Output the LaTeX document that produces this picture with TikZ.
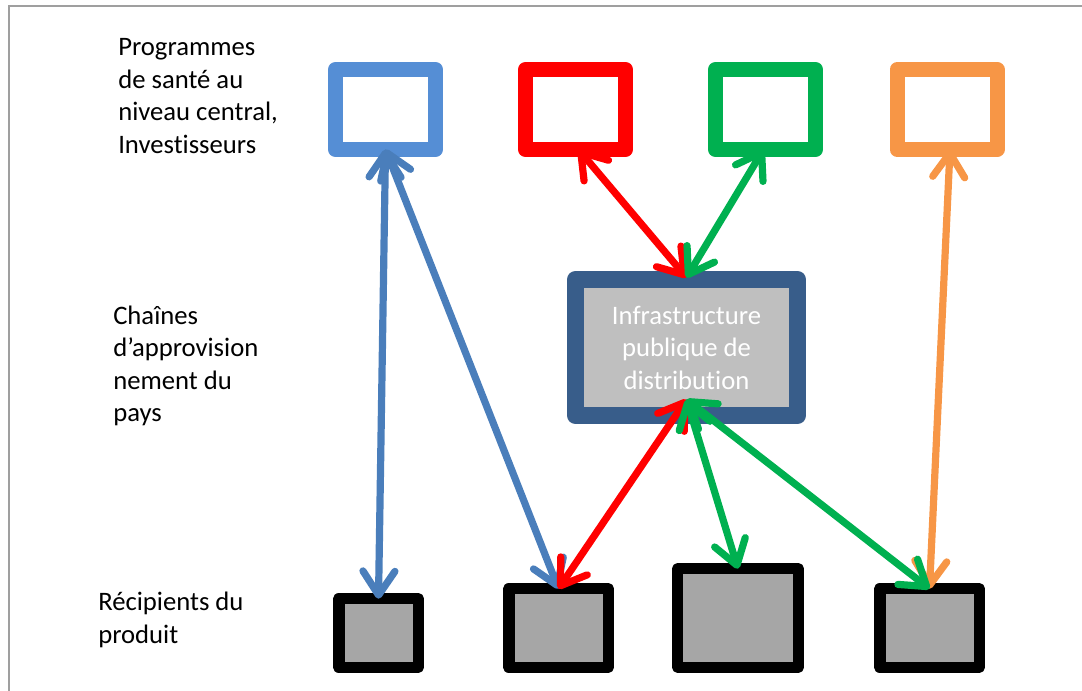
\documentclass[tikz,border=0pt]{standalone}
\usepackage{fontspec}
\setmainfont{Carlito}[Ligatures={TeX,NoCommon}]
\usetikzlibrary{arrows.meta,calc}

\definecolor{progblue}{HTML}{558ED5}
\definecolor{linkblue}{HTML}{4A7EBB}
\definecolor{progred}{HTML}{FF0000}
\definecolor{proggreen}{HTML}{00B050}
\definecolor{progorange}{HTML}{F79646}
\definecolor{infraborder}{HTML}{385D8A}
\definecolor{infrafill}{HTML}{BFBFBF}
\definecolor{recipfill}{HTML}{A6A6A6}

\tikzset{
  prog/.style={draw=#1, fill=white, line width=11.25pt, minimum width=75pt,
    minimum height=60pt, inner sep=0pt, outer sep=0pt, line join=round},
  recip/.style={draw=black, fill=recipfill, line width=8.6pt, inner sep=0pt,
    outer sep=0pt, line join=round},
  link/.style={draw=#1, line width=5.4pt, line cap=round, <->,
    >={Straight Barb[length=18pt,width=24pt,round]}},
  lbl/.style={anchor=base west, align=left, inner sep=0pt,
    font=\fontsize{20}{24.4}\selectfont},
}

\begin{document}
\begin{tikzpicture}[x=0.75pt, y=-0.75pt]
  \useasboundingbox (0,0) rectangle (1082,691);
  \draw[gray!75, line width=1.5pt] (8.5,691) -- (8.5,6.5) -- (1082,6.5);

  % row labels (placed at the baseline of their last line)
  \node[lbl] (lprog) at (118,153.5) {Programmes\\de santé au\\niveau central,\\Investisseurs};
  \node[lbl] (lchain) at (113,422) {Chaînes\\d’approvision\\nement du\\pays};
  \node[lbl] (lrecip) at (98,643) {Récipients du\\produit};

  % programmes
  \node[prog=progblue] (pb) at (385.5,109.5) {};
  \node[prog=progred] (pr) at (575.5,109.5) {};
  \node[prog=proggreen] (pg) at (765.5,109.5) {};
  \node[prog=progorange] (po) at (947,109.5) {};

  % public distribution
  \node[draw=infraborder, fill=infrafill, line width=12.75pt, line join=round,
    minimum width=166.5pt, minimum height=102pt, inner sep=0pt, outer sep=0pt,
    align=center, text=white, font=\fontsize{20}{24.4}\selectfont]
    (ci) at (686.5,347.5) {Infrastructure\\publique de\\distribution};

  % recipients
  \node[recip, minimum width=59.6pt, minimum height=51.4pt] (r1) at (378.5,633) {};
  \node[recip, minimum width=74.6pt, minimum height=58.9pt] (r2) at (558.5,628) {};
  \node[recip, minimum width=90.4pt, minimum height=73.9pt] (r3) at (738,618) {};
  \node[recip, minimum width=74.6pt, minimum height=58.9pt] (r4) at (929.5,628) {};

  \coordinate (prs) at ($(pr.south)+(3,0)$);
  \coordinate (pgs) at ($(pg.south)+(-2,0)$);
  \coordinate (pos) at ($(po.south)+(3,0)$);
  \coordinate (cin) at ($(ci.north)+(0,-2)$);
  \coordinate (cis) at ($(ci.south)+(0,-16)$);

  % links
  \path (pb.south) edge[link=linkblue] (r1.north);
  \path (pb.south) edge[link=linkblue] (r2.north);
  \path (prs) edge[link=progred] (cin);
  \path (pgs) edge[link=proggreen] (cin);
  \path (pos) edge[link=progorange] (r4.north);
  \path (cis) edge[link=progred] (r2.north);
  \path (cis) edge[link=proggreen] (r3.north);
  \path (cis) edge[link=proggreen] (r4.north);
\end{tikzpicture}
\end{document}
